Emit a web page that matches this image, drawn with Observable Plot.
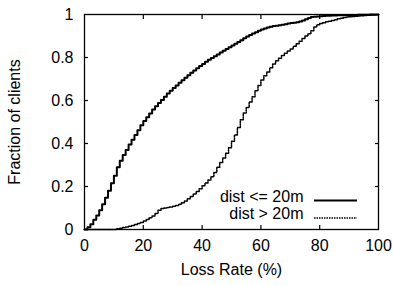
<!DOCTYPE html>
<html><head><meta charset="utf-8">
<script src="https://cdn.jsdelivr.net/npm/d3@7"></script>
<script src="https://cdn.jsdelivr.net/npm/@observablehq/plot@0.6"></script>
<style>body{margin:0;background:#fff} svg{display:block}</style>
</head><body><div id="chart"></div>
<script>
const lossRate = [0,1,2,3,4,5,6,7,8,9,10,11,12,13,14,15,16,17,18,19,20,21,22,23,24,25,26,27,28,29,30,31,32,33,34,35,36,37,38,39,40,41,42,43,44,45,46,47,48,49,50,51,52,53,54,55,56,57,58,59,60,61,62,63,64,65,66,67,68,69,70,71,72,73,74,75,76,77,78,79,80,81,82,83,84,85,86,87,88,89,90,91,92,93,94,95,96,97,98,99,100];
const nearFraction = [0,0.01,0.025,0.045,0.065,0.09,0.117,0.148,0.18,0.215,0.25,0.29,0.32,0.347,0.37,0.395,0.417,0.44,0.462,0.485,0.505,0.522,0.54,0.558,0.573,0.588,0.602,0.618,0.632,0.645,0.658,0.67,0.682,0.694,0.706,0.718,0.729,0.74,0.75,0.76,0.77,0.78,0.789,0.798,0.806,0.814,0.823,0.831,0.84,0.848,0.856,0.864,0.872,0.88,0.89,0.898,0.905,0.912,0.918,0.924,0.93,0.935,0.94,0.943,0.946,0.948,0.95,0.952,0.955,0.958,0.96,0.962,0.964,0.967,0.972,0.978,0.984,0.988,0.99,0.991,0.992,0.993,0.994,0.994,0.995,0.995,0.996,0.996,0.997,0.997,0.998,0.998,0.998,0.999,0.999,0.999,0.999,1,1,1,1];
const farFraction = [0,0,0,0,0,0,0,0,0,0,0,0.003,0.006,0.009,0.012,0.015,0.019,0.023,0.028,0.033,0.04,0.047,0.055,0.063,0.075,0.09,0.098,0.1,0.102,0.105,0.108,0.112,0.117,0.124,0.133,0.143,0.153,0.165,0.177,0.19,0.203,0.216,0.23,0.245,0.265,0.29,0.312,0.333,0.355,0.38,0.41,0.44,0.474,0.51,0.542,0.568,0.593,0.618,0.645,0.67,0.695,0.715,0.733,0.752,0.77,0.785,0.797,0.809,0.82,0.83,0.84,0.852,0.864,0.876,0.888,0.9,0.91,0.925,0.942,0.952,0.958,0.962,0.966,0.969,0.972,0.976,0.98,0.983,0.986,0.988,0.99,0.991,0.992,0.993,0.994,0.995,0.996,0.997,0.998,0.999,1];
const seriesNames = ["dist <= 20m", "dist > 20m"];
const xTicks = [0,20,40,60,80,100];
const yTicks = [0,0.2,0.4,0.6,0.8,1];
const xInnerTicks = [20,40,60,80];
const yInnerTicks = [0.2,0.4,0.6,0.8];

const near = lossRate.map((x,i)=>({x, y: nearFraction[i]}));
const far = lossRate.map((x,i)=>({x, y: farFraction[i]}));

const W = 393, H = 286, mL = 84, mR = 15, mT = 14, mB = 57;
const font = "'Liberation Sans', Arial, Helvetica, sans-serif";
const fs = 16, ls = 0.5;

const plot = Plot.plot({
  width: W, height: H,
  marginLeft: mL, marginRight: mR, marginTop: mT, marginBottom: mB,
  style: {fontFamily: font, fontSize: fs + "px", color: "black", background: "white", overflow: "visible"},
  x: {domain: [0,100]},
  y: {domain: [0,1]},
  marks: [
    Plot.axisX(xTicks, {anchor: "bottom", tickSize: 0, tickPadding: 10, fontSize: fs, label: null, tickFormat: d => String(d)}),
    Plot.axisY(yTicks, {anchor: "left", tickSize: 0, tickPadding: 11, fontSize: fs, label: null, tickFormat: d => String(d)}),
    Plot.axisX(xInnerTicks, {anchor: "bottom", tickSize: -4, text: null, label: null, strokeWidth: 1.2}),
    Plot.axisX(xInnerTicks, {anchor: "top", tickSize: -4, text: null, label: null, strokeWidth: 1.2}),
    Plot.axisY(yInnerTicks, {anchor: "left", tickSize: -4, text: null, label: null, strokeWidth: 1.2}),
    Plot.axisY(yInnerTicks, {anchor: "right", tickSize: -4, text: null, label: null, strokeWidth: 1.2}),
    Plot.line(far, {x: "x", y: "y", curve: "step-after", stroke: "black", strokeWidth: 1.5, strokeDasharray: "1.5,1"}),
    Plot.line(near, {x: "x", y: "y", curve: "step-after", stroke: "black", strokeWidth: 2}),
    Plot.frame({stroke: "black", strokeWidth: 1.3}),
    Plot.text(["Loss Rate (%)"], {frameAnchor: "bottom", text: d => d, dy: 45, fontSize: fs, letterSpacing: ls}),
    Plot.text(["Fraction of clients"], {frameAnchor: "left", textAnchor: "middle", text: d => d, rotate: -90, dx: -70, fontSize: fs, letterSpacing: ls}),
    Plot.text([seriesNames[0]], {frameAnchor: "bottom-right", text: d => d, textAnchor: "end", dx: -75, dy: -28, fontSize: fs, letterSpacing: ls}),
    Plot.text([seriesNames[1]], {frameAnchor: "bottom-right", text: d => d, textAnchor: "end", dx: -75, dy: -11, fontSize: fs, letterSpacing: ls})
  ]
});

const svg = d3.select(plot);
const fx2 = W - mR;
const fy2 = H - mB;
svg.append("line").attr("x1", fx2 - 64).attr("x2", fx2 - 21).attr("y1", fy2 - 28.5).attr("y2", fy2 - 28.5)
  .attr("stroke", "black").attr("stroke-width", 2);
svg.append("line").attr("x1", fx2 - 64).attr("x2", fx2 - 21).attr("y1", fy2 - 11).attr("y2", fy2 - 11)
  .attr("stroke", "black").attr("stroke-width", 1.5).attr("stroke-dasharray", "1.5,1");

document.getElementById("chart").appendChild(plot);
</script>
</body></html>
